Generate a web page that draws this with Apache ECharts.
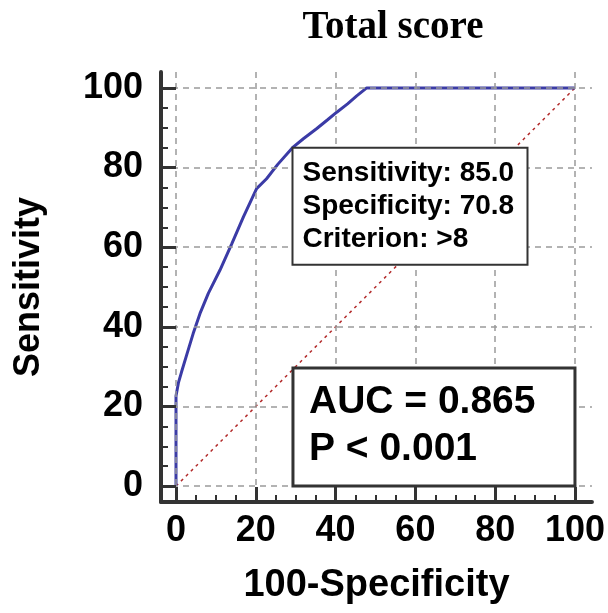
<!DOCTYPE html>
<html>
<head>
<meta charset="utf-8">
<script src="https://cdn.jsdelivr.net/npm/echarts@6/dist/echarts.min.js"></script>
<style>html,body{margin:0;padding:0;background:#fff}#c{width:608px;height:613px}</style>
</head>
<body>
<div id="c"></div>
<script>
// ROC curve points (100-Specificity, Sensitivity)
const fpr = [0, 0, 0.6, 1.4, 2.7, 4.3, 6.0, 8.1, 11.0, 14.0, 16.9, 20.2, 22.7, 25.5, 29.2, 32.0, 35.3, 38.0, 40.3, 43.0, 45.3, 47.8, 100];
const tpr = [0, 22.6, 25.9, 28.7, 33.0, 38.3, 43.3, 48.4, 54.2, 60.9, 67.6, 74.7, 77.2, 80.8, 85.0, 87.3, 89.8, 92.0, 93.9, 96.0, 98.0, 100, 100];
// reference diagonal
const diagX = [0, 100];
const diagY = [0, 100];
// tick values
const majorTicks = [0, 20, 40, 60, 80, 100];
const minorTicks = [5, 10, 15, 25, 30, 35, 45, 50, 55, 65, 70, 75, 85, 90, 95];
// annotations
const critPoint = [29.2, 85.0];
const critLines = ['Sensitivity: 85.0', 'Specificity: 70.8', 'Criterion: >8'];
const aucLines = ['AUC = 0.865', 'P < 0.001'];
const titleText = 'Total score';
const xName = '100-Specificity';
const yName = 'Sensitivity';

const FONT = 'Arial, "Liberation Sans", sans-serif';
const AX = '#333';
const chart = echarts.init(document.getElementById('c'), null, {renderer: 'canvas'});

function mkAxis(isX, major) {
  const ax = {
    type: 'value',
    min: isX ? -3.76 : -4.0,
    max: isX ? 104.26 : 104.0,
    position: isX ? 'bottom' : 'left',
    axisLine: {show: major, onZero: false, lineStyle: {color: AX, width: 4}},
    axisTick: {show: true, inside: true, length: major ? 15 : 7,
      customValues: major ? majorTicks : minorTicks,
      lineStyle: {color: AX, width: major ? 3 : 2}},
    axisLabel: {show: major, customValues: majorTicks, fontSize: 36, fontWeight: 'bold',
      fontFamily: FONT, color: '#000', margin: isX ? 11 : 18,
      padding: isX ? 0 : [0, 0, 11, 0]},
    splitLine: {show: major, lineStyle: {color: '#9a9a9a', width: 1.5, type: [6, 5]}},
    minorTick: {show: false},
    z: 5
  };
  if (major) {
    ax.name = isX ? xName : yName;
    ax.nameLocation = 'middle';
    ax.nameGap = isX ? 65 : 114;
    ax.nameTextStyle = {fontSize: isX ? 38 : 36, fontWeight: 'bold', fontFamily: FONT, color: '#000'};
    if (!isX) ax.nameRotate = 90;
  }
  return ax;
}

chart.setOption({
  animation: false,
  backgroundColor: '#fff',
  title: {text: titleText, left: 388, top: 3, textAlign: 'center',
    textStyle: {fontFamily: '"Liberation Serif", "Times New Roman", serif', fontWeight: 'bold', fontSize: 39, color: '#000'}},
  grid: {left: 161, right: 16, top: 72, bottom: 111, containLabel: false},
  xAxis: [mkAxis(true, true), mkAxis(true, false)],
  yAxis: [mkAxis(false, true), mkAxis(false, false)],
  series: [
    {type: 'line', xAxisIndex: 0, yAxisIndex: 0, showSymbol: false, silent: true,
      data: diagX.map((v, i) => [v, diagY[i]]),
      lineStyle: {color: '#b22a2a', width: 1.5, type: [3, 4]}, z: 3},
    {type: 'line', xAxisIndex: 0, yAxisIndex: 0, showSymbol: false, silent: true,
      data: fpr.map((v, i) => [v, tpr[i]]),
      lineStyle: {color: '#3b3ba6', width: 3}, z: 4}
  ]
});

const p1 = chart.convertToPixel({xAxisIndex: 0, yAxisIndex: 0}, critPoint);
const p2 = chart.convertToPixel({xAxisIndex: 0, yAxisIndex: 0}, [100, 0]);
const W1 = 235, H1 = 117, W2 = 282, H2 = 118;
chart.setOption({
  graphic: [
    {type: 'rect', z: 10, shape: {x: p1[0], y: p1[1], width: W1, height: H1},
      style: {fill: '#fff', stroke: AX, lineWidth: 2}},
    {type: 'text', z: 11, x: p1[0] + 10, y: p1[1] + 9,
      style: {text: critLines.join('\n'), font: 'bold 28px ' + FONT, lineHeight: 33, fill: '#000'}},
    {type: 'rect', z: 10, shape: {x: p2[0] - W2, y: p2[1] - H2, width: W2, height: H2},
      style: {fill: '#fff', stroke: AX, lineWidth: 3}},
    {type: 'text', z: 11, x: p2[0] - W2 + 16, y: p2[1] - H2 + 11,
      style: {text: aucLines.join('\n'), font: 'bold 39px ' + FONT, lineHeight: 47, fill: '#000'}}
  ]
});
</script>
</body>
</html>
